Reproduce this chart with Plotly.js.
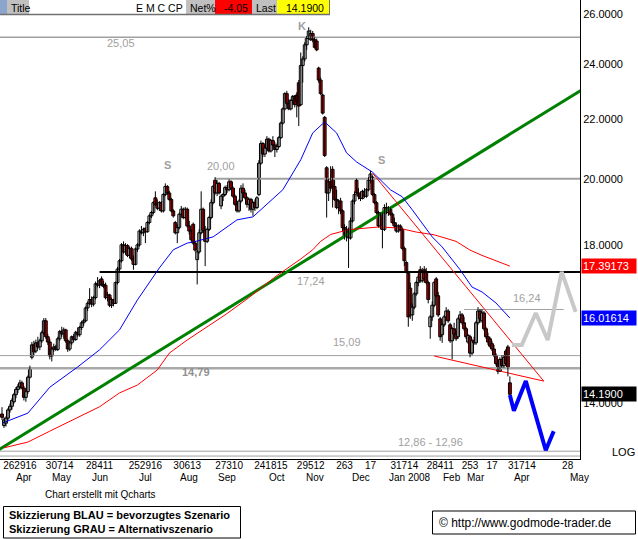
<!DOCTYPE html>
<html><head><meta charset="utf-8">
<script src="https://cdn.plot.ly/plotly-3.0.1.min.js"></script>
<style>html,body{margin:0;padding:0;background:#fff;}#chart{width:638px;height:539px;}</style>
</head><body><div id="chart"></div>
<script>
// ---------- DATA ----------
const calStart = '2007-03-22';      // two sessions before the first candle
const firstCandle = '2007-03-26';
const holidays = ['2007-04-06','2007-05-28','2007-07-04','2007-09-03','2007-11-22','2007-12-25','2008-01-01','2008-01-21','2008-02-18','2008-03-21','2008-05-26'];

const open = [
13.75,13.50,13.55,13.66,13.84,13.92,14.02,14.18,14.30,14.36,
14.45,14.33,14.12,14.25,14.58,15.05,15.35,15.20,15.40,15.30,
15.45,15.65,15.95,15.55,15.42,15.08,15.25,15.30,15.24,15.50,
15.68,15.62,15.72,15.45,15.25,15.40,15.55,15.48,15.66,15.60,
15.78,15.90,15.95,16.28,16.40,16.50,16.38,16.55,16.92,16.88,
17.05,16.90,16.88,16.55,16.62,16.35,16.50,16.40,16.95,17.32,
17.55,18.00,17.80,17.98,17.70,17.90,17.60,17.45,17.88,18.00,
18.40,18.35,18.48,18.38,18.65,18.85,18.95,19.40,19.20,19.08,
19.25,19.00,19.50,19.75,19.55,19.35,19.00,18.65,18.35,18.50,
18.90,19.05,18.80,19.05,18.55,18.40,18.60,18.05,17.58,17.80,
18.35,19.05,18.42,18.10,18.45,18.80,19.25,19.95,19.55,19.85,
19.15,19.45,19.50,19.72,19.65,19.90,19.70,19.45,19.20,19.00,
19.30,19.70,19.55,19.40,19.20,19.35,19.05,19.25,19.10,19.50,
20.50,21.15,20.80,21.00,21.30,20.90,21.25,21.10,20.95,21.05,
21.35,21.85,22.35,22.90,22.55,22.35,22.65,22.80,22.85,23.30,
22.50,23.95,24.20,24.75,25.00,24.95,25.20,24.95,24.90,23.85,
23.40,22.85,22.05,20.35,19.55,19.90,20.30,19.75,19.35,19.10,
19.30,19.00,18.50,18.25,18.45,18.20,18.70,19.30,19.95,19.55,
19.45,19.38,19.60,19.45,19.65,19.95,20.05,19.50,19.25,18.95,
18.55,18.90,18.45,19.10,18.95,19.05,18.90,18.65,18.55,18.40,
18.55,18.45,17.90,17.50,17.20,16.80,16.10,16.30,16.65,16.95,
17.30,17.00,17.30,17.25,16.95,15.80,16.05,16.35,17.05,16.60,
16.00,15.60,15.85,16.05,16.20,15.85,15.45,15.75,15.62,15.55,
16.00,16.10,15.90,15.75,15.42,15.55,15.15,15.45,15.40,15.90,
16.20,15.95,16.15,15.75,15.55,15.50,15.38,15.25,15.10,14.90,
14.72,15.00,14.85,15.20,15.30,14.45];
const high = [
13.90,13.68,13.70,13.88,13.98,14.10,14.22,14.35,14.42,14.52,
14.50,14.38,14.30,14.62,14.85,15.42,15.45,15.48,15.55,15.50,
15.70,16.02,16.02,15.62,15.50,15.30,15.38,15.35,15.55,15.72,
15.80,15.78,15.75,15.50,15.45,15.58,15.62,15.70,15.78,15.82,
15.95,16.00,16.32,16.45,16.80,16.58,16.60,16.98,17.10,17.05,
17.12,17.00,16.95,16.70,16.65,16.55,16.52,16.98,17.38,17.60,
18.05,18.10,18.05,18.02,17.95,17.95,17.70,17.92,18.05,18.45,
18.55,18.50,18.50,18.70,18.90,19.00,19.30,19.60,19.35,19.30,
19.30,19.55,19.85,19.80,19.62,19.40,19.05,18.70,18.60,18.95,
19.15,19.10,19.12,19.10,18.70,18.45,18.65,18.10,17.85,18.45,
19.60,19.10,18.55,18.50,18.85,19.35,19.80,20.05,19.95,19.90,
19.50,19.55,19.78,19.80,19.98,19.95,19.75,19.50,19.25,19.35,
19.80,19.85,19.65,19.45,19.40,19.40,19.30,19.35,19.45,20.60,
21.25,21.20,21.10,21.40,21.35,21.30,21.40,21.20,21.15,21.40,
21.90,22.40,22.95,23.00,22.70,22.70,22.85,22.85,22.95,23.40,
24.45,24.30,24.85,25.10,25.45,25.35,25.30,25.05,25.00,23.90,
23.50,22.90,22.10,20.40,20.00,20.40,20.40,19.95,19.65,19.35,
19.40,19.05,18.60,18.55,18.50,18.80,19.35,19.60,20.00,19.70,
19.60,19.65,19.70,19.70,20.05,20.25,20.10,19.55,19.30,19.00,
18.95,18.95,19.20,19.25,19.15,19.10,18.95,18.80,18.65,18.60,
18.60,18.50,17.95,17.55,17.25,16.95,16.40,16.70,17.00,17.20,
17.40,17.35,17.40,17.35,17.00,16.10,16.45,17.00,17.10,16.70,
16.05,15.90,16.10,16.30,16.25,15.90,15.80,15.90,15.70,16.05,
16.20,16.15,16.05,15.80,15.62,15.60,15.50,15.55,15.95,16.30,
16.25,16.25,16.20,15.80,15.65,15.55,15.45,15.35,15.15,15.00,
15.05,15.10,15.10,15.25,15.35,14.60];
const low = [
13.62,13.45,13.48,13.62,13.78,13.85,13.98,14.10,14.22,14.30,
14.30,14.05,14.02,14.20,14.55,15.00,15.10,15.15,15.25,15.22,
15.40,15.60,15.50,15.35,15.00,14.95,15.18,15.20,15.20,15.45,
15.55,15.50,15.40,15.18,15.20,15.35,15.42,15.45,15.55,15.55,
15.72,15.82,15.92,16.20,16.35,16.30,16.32,16.50,16.82,16.80,
16.85,16.80,16.50,16.45,16.30,16.28,16.32,16.38,16.90,17.25,
17.50,17.75,17.72,17.65,17.62,17.55,17.30,17.42,17.80,17.95,
18.30,18.25,18.05,18.35,18.60,18.78,18.90,19.15,19.02,19.00,
18.95,18.95,19.45,19.50,19.30,18.95,18.80,18.30,18.05,18.45,
18.80,18.75,18.75,18.50,18.30,18.10,18.00,17.80,16.90,17.75,
18.30,18.35,17.40,18.05,18.40,18.75,19.20,19.50,19.45,19.50,
19.05,19.30,19.45,19.55,19.60,19.65,19.40,19.15,18.95,18.95,
19.25,19.50,19.35,19.10,19.00,18.95,18.85,19.00,19.05,19.45,
20.45,20.70,20.70,20.95,20.85,20.85,21.05,20.70,20.85,21.00,
21.30,21.80,22.30,22.50,22.30,22.30,22.50,22.40,22.05,21.75,
22.45,23.30,24.10,24.55,24.95,24.90,24.85,24.60,24.50,23.30,
22.85,22.15,20.70,18.80,19.30,19.60,19.10,19.30,19.05,18.90,
18.90,18.40,18.15,18.10,17.35,18.15,18.65,19.20,19.50,19.35,
19.30,19.35,19.40,19.40,19.60,19.85,19.45,19.20,18.90,18.50,
18.45,17.90,18.40,18.90,18.85,18.85,18.60,18.50,18.35,18.35,
18.40,17.85,17.40,17.20,15.80,16.00,15.95,16.25,16.60,16.85,
16.95,16.95,16.95,16.90,16.40,15.50,15.95,16.30,16.55,16.05,
15.45,15.40,15.80,15.95,15.90,15.40,15.00,15.55,15.45,15.50,
15.90,15.85,15.70,15.50,15.38,15.05,15.10,15.35,15.35,15.85,
15.90,15.90,15.70,15.50,15.35,15.28,15.20,15.05,14.85,14.65,
14.70,14.80,14.80,14.85,14.60,14.15];
const close = [
13.68,13.62,13.66,13.84,13.92,14.05,14.18,14.30,14.36,14.45,
14.33,14.12,14.25,14.58,14.80,15.35,15.18,15.40,15.30,15.45,
15.65,15.95,15.55,15.42,15.08,15.25,15.30,15.24,15.50,15.68,
15.62,15.72,15.45,15.25,15.40,15.55,15.48,15.66,15.60,15.78,
15.90,15.95,16.28,16.40,16.50,16.38,16.55,16.92,16.88,17.00,
16.90,16.85,16.55,16.62,16.35,16.50,16.40,16.95,17.32,17.55,
18.00,17.80,17.98,17.70,17.90,17.60,17.45,17.88,18.00,18.40,
18.35,18.45,18.38,18.65,18.85,18.95,19.25,19.20,19.08,19.25,
19.00,19.50,19.75,19.55,19.35,19.00,18.85,18.35,18.50,18.90,
19.05,18.80,19.05,18.55,18.40,18.15,18.05,17.85,17.80,18.35,
19.05,18.42,18.10,18.45,18.80,19.25,19.75,19.55,19.85,19.55,
19.45,19.50,19.72,19.65,19.90,19.70,19.45,19.20,19.00,19.30,
19.70,19.55,19.40,19.20,19.35,19.05,19.25,19.10,19.40,20.50,
21.15,20.80,21.00,21.30,20.90,21.25,21.10,20.95,21.05,21.35,
21.85,22.35,22.90,22.55,22.35,22.65,22.80,22.50,22.60,22.45,
23.95,24.20,24.75,25.00,25.30,25.20,24.95,24.65,24.55,23.40,
22.90,22.20,20.75,19.55,19.90,19.70,19.75,19.35,19.10,19.30,
19.00,18.50,18.25,18.45,18.20,18.70,19.30,19.50,19.55,19.45,
19.38,19.60,19.45,19.65,19.95,20.15,19.50,19.25,18.95,18.55,
18.90,18.45,19.10,18.95,19.05,18.90,18.65,18.55,18.40,18.55,
18.45,17.90,17.55,17.25,16.05,16.10,16.30,16.65,16.95,17.10,
17.00,17.25,17.05,16.95,16.50,16.05,16.35,16.95,16.60,16.10,
15.55,15.85,16.05,16.20,15.95,15.45,15.75,15.62,15.50,16.00,
16.10,15.90,15.75,15.55,15.58,15.15,15.45,15.40,15.90,16.20,
16.00,16.15,15.75,15.55,15.42,15.32,15.25,15.10,14.90,14.72,
15.00,14.85,15.05,14.90,14.79,14.19];

// moving averages (candle index, value)
const blueMaIdx = [0,13,24,38,49,59,68,79,86,93,98,106,118,126,141,150,156,162,168,173,178,186,195,201,206,211,216,221,226,230,236,241,248,255];
const blueMaVal = [13.55,13.77,14.35,14.82,15.23,15.72,16.49,17.35,17.86,18.05,18.11,18.23,18.73,18.82,19.65,20.61,21.51,21.89,21.51,20.84,20.54,20.21,19.65,19.43,19.03,18.64,18.23,17.94,17.58,17.30,16.83,16.70,16.41,16.02];
const redMaIdx = [1,13,24,39,49,59,68,78,84,93,99,112,124,137,150,156,160,165,174,189,199,208,217,228,235,241,255];
const redMaVal = [13.03,13.15,13.38,13.69,13.91,14.22,14.40,14.75,15.15,15.47,15.67,16.10,16.55,17.10,17.60,17.86,18.10,18.30,18.44,18.52,18.49,18.37,18.29,18.10,17.85,17.70,17.40];

// trend lines (candle index, value)
const greenIdx = [-2, 292];   const greenVal = [12.98, 23.08];
const resistIdx = [186, 272]; const resistVal = [20.18, 14.49];
const supportIdx = [217, 272]; const supportVal = [15.08, 14.49];

// scenarios
const blueScenIdx = [255, 257, 263, 273, 277]; const blueScenVal = [14.17, 13.82, 14.49, 12.98, 13.38];
const grayScenIdx = [256, 261, 268, 274, 281, 288]; const grayScenVal = [15.35, 15.35, 16.15, 15.47, 17.24, 16.18];

// horizontal levels
const fullLevels = [25.05, 15.09, 14.79, 12.96, 12.86];
const level20 = 20.00, level20StartIdx = 107;
const level1724 = 17.24, level1724StartIdx = 49;
const level1624 = 16.24, level1624Idx = [232, 282];

// axis labels
const yTickVals = [14, 18, 20, 22, 24, 26];
const yTickText = ['14.0000','18.0000','20.0000','22.0000','24.0000','26.0000'];
const tickDates = ['2007-04-09','2007-05-07','2007-06-05','2007-07-09','2007-08-07','2007-09-06','2007-10-05','2007-11-02','2007-11-28','2007-12-17','2008-01-11','2008-02-07','2008-02-29','2008-03-17','2008-04-08','2008-05-09'];
const tickTexts = ['262916','30714','28411','252916','30613','27310','241815','29512','263','17','31714','28411','253','17','31714','28'];
const monthDates = ['2007-04-11','2007-05-08','2007-06-05','2007-07-09','2007-08-08','2007-09-05','2007-10-10','2007-11-06','2007-12-10','2008-01-16','2008-02-15','2008-03-05','2008-04-08','2008-05-19'];
const monthTexts = ['Apr','May','Jun','Jul','Aug','Sep','Oct','Nov','Dec','Jan 2008','Feb','Mar','Apr','May'];

const lastRed = 17.39173, lastBlue = 16.01614, lastPrice = 14.19, netPct = '-4.05';

// ---------- CALENDAR (trading sessions as categories) ----------
function tradingDays(start, n) {
  const out = []; const d = new Date(start + 'T00:00:00Z');
  while (out.length < n) {
    const dow = d.getUTCDay(); const s = d.toISOString().slice(0, 10);
    if (dow !== 0 && dow !== 6 && holidays.indexOf(s) < 0) out.push(s);
    d.setUTCDate(d.getUTCDate() + 1);
  }
  return out;
}
const cal = tradingDays(calStart, 310);
const OFF = cal.indexOf(firstCandle);
const dates = cal.slice(OFF, OFF + close.length);
const D = idx => idx.map(i => cal[i + OFF]);

// ---------- TRACES ----------
const traces = [];
function line(x, y, color, width) {
  traces.push({type:'scatter', mode:'lines', x:x, y:y, line:{color:color, width:width}, hoverinfo:'skip', showlegend:false});
}
const calL = cal[0], calR = cal[cal.length - 1];
fullLevels.forEach(v => {
  const w = (v === 14.79) ? 2.5 : (v === 25.05 ? 1.5 : 1);
  const c = (v === 14.79) ? '#a8a8a8' : '#a0a0a0';
  line([calL, calR], [v, v], c, w);
});
line([D([level20StartIdx])[0], calR], [level20, level20], '#a0a0a0', 2);
line(D(level1624Idx), [level1624, level1624], '#a0a0a0', 1);
line([D([level1724StartIdx])[0], calR], [level1724, level1724], '#000000', 2);
line(D(greenIdx), greenVal, '#008000', 3);
line(D(redMaIdx), redMaVal, '#ff0000', 1);
line(D(blueMaIdx), blueMaVal, '#0000ff', 1);
line(D(resistIdx), resistVal, '#ff0000', 1);
line(D(supportIdx), supportVal, '#ff0000', 1);

// candles: wicks + bodies
const wx = [], wy = [];
dates.forEach((d, i) => { wx.push(d, d, null); wy.push(low[i], high[i], null); });
traces.push({type:'scatter', mode:'lines', x:wx, y:wy, line:{color:'#000', width:1}, hoverinfo:'skip', showlegend:false, connectgaps:false});
traces.push({type:'bar', x:dates,
  base: dates.map((d, i) => Math.min(open[i], close[i])),
  y: dates.map((d, i) => Math.max(Math.abs(close[i] - open[i]), 0.012)),
  width: 1.45,
  marker:{color: dates.map((d, i) => close[i] >= open[i] ? '#ffffff' : '#ff0000'), line:{color:'#000', width:1}},
  hoverinfo:'skip', showlegend:false});

line(D(grayScenIdx), grayScenVal, '#c8c8c8', 4);
line(D(blueScenIdx), blueScenVal, '#0000ff', 4);

// ---------- LAYOUT ----------
const FONT = 'Liberation Sans, Arial, sans-serif';
const PW = 580, PH = 459;
const px = x => x / PW, py = y => 1 - y / PH;
const ann = [];
function txt(x, y, t, o) { ann.push(Object.assign({xref:'paper', yref:'paper', x:px(x), y:py(y), text:t, showarrow:false,
  font:{family:FONT, size:11, color:'#a0a0a0'}, xanchor:'center', yanchor:'middle'}, o||{})); }

txt(121, 43, '25,05');
txt(302, 26, '<b>K</b>');
txt(167, 165, '<b>S</b>');
txt(381, 160, '<b>S</b>');
txt(221, 166, '20,00');
txt(311, 281, '17,24');
txt(527, 298, '16,24');
txt(347, 342, '15,09');
txt(196, 372, '<b>14,79</b>', {font:{family:FONT, size:11, color:'#909090'}});
txt(430, 442, '12,86 - 12,96');
txt(623, 452, 'LOG', {font:{family:FONT, size:11, color:'#000'}});

// month labels under the axis (category index positions)
monthDates.forEach((d, k) => ann.push({xref:'x', yref:'paper', x:cal.indexOf(d), y:0, yshift:-18, text:monthTexts[k], showarrow:false,
  font:{family:FONT, size:10, color:'#000'}, xanchor:'center', yanchor:'middle'}));

// right-side value boxes
[[lastRed, '#ff0000', '17.39173'], [lastBlue, '#0000ff', '16.01614'], [lastPrice, '#000000', '14.1900']].forEach(b => {
  ann.push({xref:'paper', yref:'y', x:1, xshift:1, y:Math.log10(b[0]), text:b[2], showarrow:false, xanchor:'left', yanchor:'middle',
    bgcolor:b[1], width:52, height:12, align:'left', borderpad:1, font:{family:FONT, size:11, color:'#fff'}});
});

// title bar
const shapes = [];
const tb = [[0,7,'#8ca5cc'],[7,29,'#c0c0c0'],[29,186,'#ffffff'],[186,215,'#c0c0c0'],[215,252,'#ff0000'],[252,277,'#c0c0c0'],[277,329,'#ffff00']];
tb.forEach(s => shapes.push({type:'rect', xref:'paper', yref:'paper', x0:px(s[0]), x1:px(s[1]), y0:py(14), y1:py(0), fillcolor:s[2], line:{width:0}, layer:'above'}));
shapes.push({type:'line', xref:'paper', yref:'paper', x0:0, x1:px(330), y0:py(14.5), y1:py(14.5), line:{color:'#707070', width:1.5}, layer:'above'});
shapes.push({type:'line', xref:'paper', yref:'paper', x0:px(329.5), x1:px(329.5), y0:py(14.5), y1:py(0), line:{color:'#707070', width:1}, layer:'above'});
const tbf = {family:FONT, size:10.5, color:'#000'};
txt(9, 7.5, 'Title', {xanchor:'left', font:tbf});
txt(185, 7.5, 'E M C CP', {xanchor:'right', font:tbf});
txt(188, 7.5, 'Net%', {xanchor:'left', font:tbf});
txt(250, 7.5, netPct, {xanchor:'right', font:tbf});
txt(254, 7.5, 'Last', {xanchor:'left', font:tbf});
txt(326, 7.5, lastPrice.toFixed(4), {xanchor:'right', font:tbf});

// footer
txt(101, 494, 'Chart erstellt mit Qcharts', {font:{family:FONT, size:10, color:'#000'}});
shapes.push({type:'rect', xref:'paper', yref:'paper', x0:px(3.5), x1:px(240.5), y0:py(538), y1:py(506.5), line:{color:'#000', width:1}, fillcolor:'rgba(0,0,0,0)'});
txt(7, 515, '<b>Skizzierung BLAU = bevorzugtes Szenario</b>', {xanchor:'left', font:{family:FONT, size:11, color:'#000'}});
txt(7, 529, '<b>Skizzierung GRAU = Alternativszenario</b>', {xanchor:'left', font:{family:FONT, size:11, color:'#000'}});
shapes.push({type:'rect', xref:'paper', yref:'paper', x0:px(432.5), x1:px(635.5), y0:py(534), y1:py(511), line:{color:'#000', width:1}, fillcolor:'rgba(0,0,0,0)'});
txt(437, 522.5, '© http://www.godmode-trader.de', {xanchor:'left', font:{family:FONT, size:12, color:'#000'}});

const layout = {
  width:638, height:539, margin:{l:0, r:58, t:0, b:80, pad:0},
  paper_bgcolor:'#fff', plot_bgcolor:'#fff', showlegend:false, barmode:'overlay',
  font:{family:FONT, size:11, color:'#000'},
  xaxis:{type:'category', categoryorder:'array', categoryarray:cal, range:[OFF - 1.004, OFF + 290.2],
    tickmode:'array', tickvals:tickDates, ticktext:tickTexts, tickangle:0,
    ticks:'', ticklabelstandoff:-3, showgrid:false, zeroline:false, showline:true, linecolor:'#000', linewidth:1,
    tickfont:{family:FONT, size:10, color:'#000'}, fixedrange:true},
  yaxis:{type:'log', range:[Math.log10(12.80), Math.log10(26.58)], side:'right', tickmode:'array',
    tickvals:yTickVals, ticktext:yTickText, ticks:'', showgrid:false, zeroline:false, showline:true,
    linecolor:'#000', linewidth:1, tickfont:{family:FONT, size:11, color:'#000'}, fixedrange:true},
  annotations:ann, shapes:shapes
};
Plotly.newPlot('chart', traces, layout, {staticPlot:true, displayModeBar:false});
</script></body></html>
